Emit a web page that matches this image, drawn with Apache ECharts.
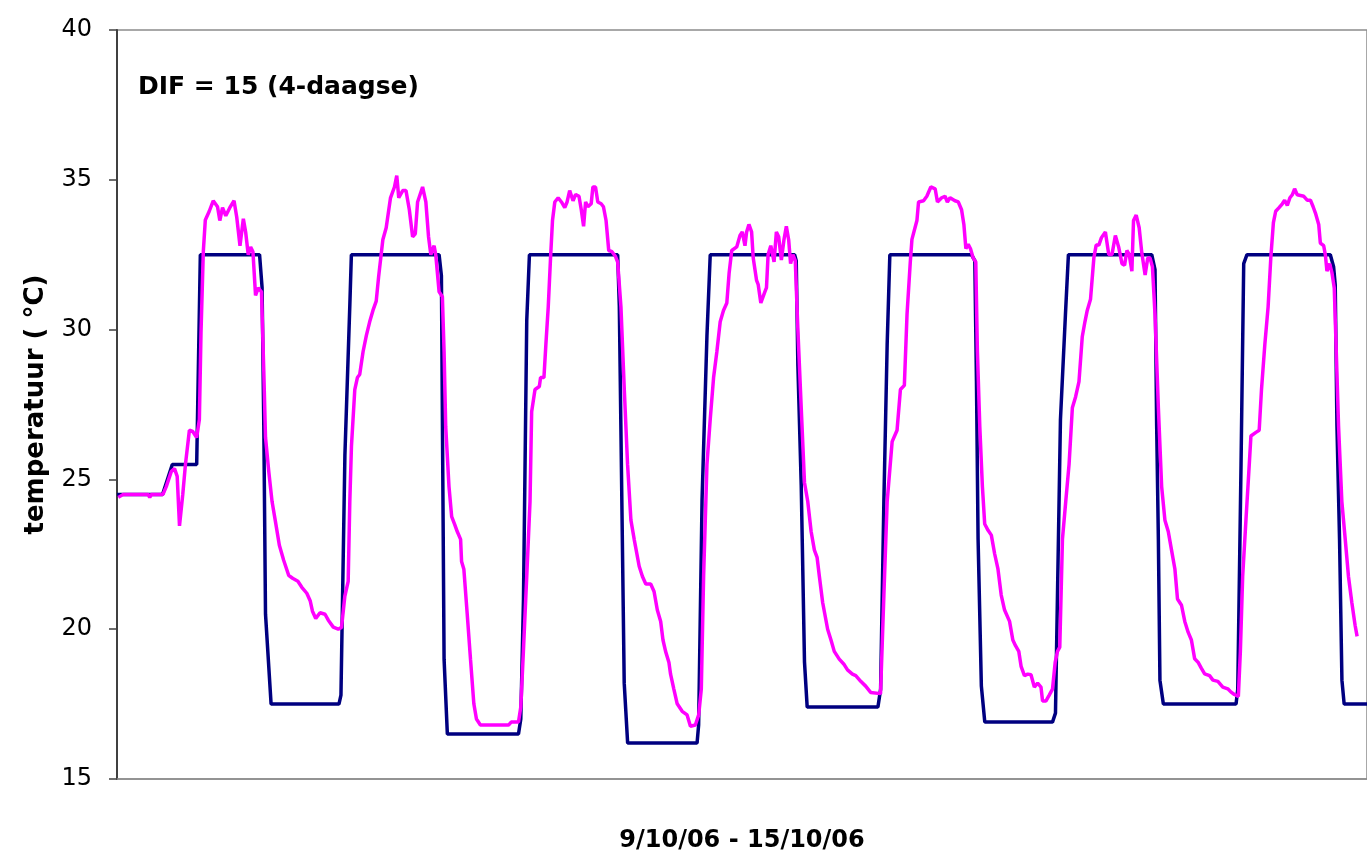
<!DOCTYPE html>
<html>
<head>
<meta charset="utf-8">
<script src="https://cdn.jsdelivr.net/npm/echarts@6/dist/echarts.min.js"></script>
<style>
html,body{margin:0;padding:0;background:#fff;}
#chart{width:1367px;height:858px;}
</style>
</head>
<body>
<div id="chart"></div>
<script>
// Time in hours since start of 9/10/06 (7 days = 168 h)
const titleText = 'DIF = 15 (4-daagse)';
const xAxisName = '9/10/06 - 15/10/06';
const yAxisName = 'temperatuur ( °C)';
const yTicks = [15, 20, 25, 30, 35, 40];

// Setpoint (dark blue)
const setHours = [0, 6.13, 7.43, 10.71, 11.2, 19.16, 19.5, 19.73, 19.96, 20.71,
  29.83, 30.1, 30.63, 31.29, 31.5, 43.29, 43.6, 43.96, 44.4,
  53.96, 54.27, 54.63, 55.07, 55.43, 67.29, 67.51, 68.17, 68.63,
  77.96, 78.17, 78.63, 79.29, 79.73, 91.07, 91.29, 91.51, 91.96, 92.4, 92.76,
  102.27, 102.63, 103.07, 103.51, 103.87, 114.84, 115.29, 115.51, 115.73, 116.17, 116.63,
  125.73, 126.13, 126.8, 127.47, 127.87, 139.07, 139.51, 139.73, 139.96, 140.17, 140.63,
  150.4, 150.63, 151.07, 151.43, 151.87, 163.07, 163.51, 163.73, 163.96, 164.31, 164.63, 164.93, 168];
const setTemps = [24.5, 24.5, 25.5, 25.5, 32.5, 32.5, 31.4, 26.8, 20.5, 17.5,
  17.5, 17.8, 25.8, 30.8, 32.5, 32.5, 31.8, 19.0, 16.5,
  16.5, 17.0, 21.0, 30.3, 32.5, 32.5, 30.8, 18.2, 16.2,
  16.2, 16.8, 24.3, 29.8, 32.5, 32.5, 32.3, 28.8, 24.8, 18.9, 17.4,
  17.4, 18.0, 24.3, 29.5, 32.5, 32.5, 32.3, 28.3, 23.0, 18.1, 16.9,
  16.9, 17.2, 27.0, 30.5, 32.5, 32.5, 32.0, 26.8, 23.0, 18.3, 17.5,
  17.5, 18.0, 25.5, 32.2, 32.5, 32.5, 32.1, 31.5, 26.8, 23.0, 18.3, 17.5, 17.5];

// Measured temperature (magenta)
const measHours = [0.18, 0.4, 0.84, 4.18, 4.4, 4.62, 6.18, 6.62, 7.29, 7.73, 8.09, 8.4, 8.84, 9.2, 9.73, 10.18, 10.71, 11.07, 11.29, 11.6,
  11.87, 12.4, 12.93, 13.51, 13.82, 14.18, 14.62, 15.16, 15.73, 16.09, 16.53, 16.98, 17.29, 17.64, 17.96, 18.27, 18.62, 18.98, 19.42, 19.73,
  19.96, 20.4, 20.84, 21.29, 21.82, 22.4, 23.07, 23.6, 24.31, 24.84, 25.51, 25.96, 26.27, 26.71, 27.29, 27.96, 28.4, 29.07, 29.73, 30.18,
  30.62, 31.07, 31.29, 31.51, 31.96, 32.31, 32.62, 33.07, 33.51, 33.96, 34.4, 34.84, 35.16, 35.73, 36.18, 36.76, 37.29, 37.6, 37.87, 38.4,
  38.84, 39.29, 39.73, 40.09, 40.4, 41.07, 41.51, 41.87, 42.18, 42.62, 42.84, 43.29, 43.73, 43.96, 44.18, 44.62, 44.98, 45.38, 45.73, 46.18,
  46.31, 46.62, 47.07, 47.51, 47.96, 48.31, 48.84, 52.62, 52.98, 53.96, 54.27, 54.62, 55.07, 55.51, 55.73, 56.18, 56.76, 56.93, 57.38, 57.64,
  57.96, 58.27, 58.53, 58.84, 59.29, 59.73, 60.18, 60.49, 60.84, 61.29, 61.64, 62.09, 62.4, 62.71, 62.98, 63.29, 63.73, 63.96, 64.31, 64.62,
  65.07, 65.38, 65.73, 66.09, 66.53, 66.98, 67.29, 67.73, 68.18, 68.62, 69.07, 69.51, 70.18, 70.62, 71.07, 71.73, 72.18, 72.62, 73.07, 73.38,
  73.73, 74.18, 74.4, 74.84, 75.29, 75.96, 76.62, 77.07, 77.73, 78.18, 78.53, 78.84, 79.29, 79.73, 80.18, 80.62, 81.07, 81.51, 81.96, 82.27,
  82.62, 83.29, 83.73, 84.04, 84.4, 84.62, 84.93, 85.29, 85.51, 85.96, 86.18, 86.53, 87.07, 87.29, 87.51, 87.87, 88.31, 88.62, 88.93, 89.29,
  89.64, 89.96, 90.27, 90.53, 90.84, 91.16, 91.51, 91.96, 92.4, 92.84, 93.29, 93.73, 94.09, 94.4, 94.84, 95.51, 95.96, 96.4, 97.07, 97.73,
  98.18, 98.84, 99.29, 99.96, 100.62, 101.29, 102.62, 103.07, 103.51, 104.18, 104.84, 105.29, 105.82, 106.18, 106.62, 106.84, 107.51, 107.73, 108.4, 108.84,
  109.38, 109.96, 110.27, 110.84, 111.29, 111.6, 111.96, 112.62, 113.07, 113.51, 113.82, 114.09, 114.4, 114.71, 115.07, 115.42, 115.64, 115.96, 116.31, 116.62,
  117.07, 117.51, 117.96, 118.4, 118.84, 119.29, 119.96, 120.4, 120.76, 121.2, 121.51, 121.96, 122.4, 122.84, 123.29, 123.73, 124.18, 124.4, 124.84, 125.29,
  125.73, 126.09, 126.4, 126.71, 127.07, 127.51, 127.96, 128.4, 128.84, 129.29, 129.73, 130.09, 130.4, 130.84, 131.29, 131.6, 131.96, 132.31, 132.84, 133.29,
  133.73, 134.18, 134.62, 135.07, 135.42, 135.73, 136.04, 136.4, 136.62, 136.98, 137.38, 137.73, 138.18, 138.53, 138.84, 139.16, 139.51, 139.96, 140.4, 140.84,
  141.29, 141.73, 142.18, 142.53, 143.07, 143.51, 143.96, 144.4, 144.84, 145.29, 145.73, 146.18, 146.84, 147.29, 147.96, 148.62, 149.29, 149.73, 150.18, 150.71,
  150.98, 151.29, 151.73, 152.18, 152.4, 153.07, 153.51, 153.82, 154.27, 154.71, 155.07, 155.42, 155.73, 156.18, 156.62, 156.93, 157.29, 157.64, 157.96, 158.27,
  158.62, 159.51, 159.96, 160.4, 160.76, 161.07, 161.51, 161.73, 162.18, 162.4, 162.62, 162.98, 163.29, 163.6, 163.87, 164.18, 164.62, 165.07, 165.51, 165.96,
  166.4, 166.67];
const measTemps = [24.4, 24.35, 24.5, 24.5, 24.4, 24.5, 24.5, 24.76, 25.26, 25.36, 25.1, 23.45, 24.5, 25.5, 26.64, 26.6, 26.4, 27.0, 29.9, 32.6,
  33.66, 33.95, 34.3, 34.1, 33.64, 34.07, 33.8, 34.07, 34.3, 33.76, 32.8, 33.7, 33.26, 32.5, 32.76, 32.6, 31.14, 31.39, 31.26, 28.6,
  26.4, 25.26, 24.26, 23.6, 22.8, 22.3, 21.8, 21.7, 21.6, 21.4, 21.2, 20.95, 20.6, 20.36, 20.55, 20.5, 20.3, 20.07, 20.0, 20.06,
  21.1, 21.6, 24.26, 26.1, 28.0, 28.4, 28.5, 29.26, 29.8, 30.26, 30.64, 30.95, 31.76, 33.0, 33.4, 34.4, 34.76, 35.14, 34.4, 34.64,
  34.64, 34.0, 33.1, 33.2, 34.26, 34.76, 34.26, 33.1, 32.5, 32.8, 32.5, 31.26, 31.1, 29.26, 26.76, 24.76, 23.76, 23.5, 23.26, 23.0,
  22.26, 22.0, 20.5, 19.0, 17.51, 17.0, 16.8, 16.8, 16.9, 16.9, 17.4, 19.26, 21.76, 24.26, 27.26, 28.0, 28.1, 28.4, 28.4, 29.5,
  30.76, 32.4, 33.64, 34.26, 34.4, 34.26, 34.07, 34.26, 34.64, 34.3, 34.51, 34.45, 34.0, 33.45, 34.26, 34.1, 34.2, 34.76, 34.76, 34.26,
  34.2, 34.1, 33.64, 32.64, 32.6, 32.45, 32.25, 30.76, 28.0, 25.5, 23.64, 23.0, 22.1, 21.76, 21.51, 21.51, 21.26, 20.64, 20.26, 19.64,
  19.26, 18.89, 18.5, 18.0, 17.51, 17.26, 17.14, 16.76, 16.8, 17.14, 18.0, 21.76, 25.5, 27.0, 28.4, 29.26, 30.26, 30.64, 30.89, 31.89,
  32.64, 32.76, 33.14, 33.26, 32.8, 33.26, 33.51, 33.26, 32.39, 31.64, 31.5, 30.89, 31.26, 31.4, 32.51, 32.8, 32.26, 33.26, 33.1, 32.32,
  33.0, 33.45, 33.0, 32.2, 32.5, 32.3, 30.0, 27.39, 24.89, 24.26, 23.26, 22.64, 22.4, 21.76, 20.89, 20.0, 19.64, 19.26, 19.0, 18.82,
  18.64, 18.5, 18.45, 18.26, 18.1, 17.89, 17.85, 21.14, 24.26, 26.26, 26.64, 28.0, 28.14, 30.51, 32.26, 33.01, 33.64, 34.26, 34.3, 34.45,
  34.76, 34.7, 34.26, 34.4, 34.45, 34.26, 34.4, 34.3, 34.26, 34.0, 33.51, 32.7, 32.85, 32.7, 32.39, 32.26, 29.26, 26.76, 24.76, 23.51,
  23.3, 23.14, 22.51, 22.01, 21.14, 20.64, 20.26, 19.64, 19.45, 19.26, 18.76, 18.45, 18.5, 18.48, 18.07, 18.2, 18.07, 17.6, 17.6, 17.8,
  18.0, 18.89, 19.26, 19.4, 23.01, 24.26, 25.51, 27.39, 27.76, 28.26, 29.76, 30.26, 30.64, 31.01, 32.39, 32.82, 32.82, 33.07, 33.26, 32.51,
  32.51, 33.14, 32.76, 32.2, 32.15, 32.64, 32.51, 31.95, 33.64, 33.82, 33.4, 32.57, 31.82, 32.39, 32.39, 32.1, 30.51, 27.4, 24.76, 23.64,
  23.26, 22.64, 22.01, 21.01, 20.8, 20.26, 19.9, 19.64, 19.01, 18.9, 18.7, 18.51, 18.45, 18.3, 18.26, 18.07, 18.01, 17.9, 17.82, 17.76,
  19.26, 21.76, 23.64, 25.51, 26.45, 26.57, 26.64, 28.0, 29.51, 30.76, 32.39, 33.57, 33.95, 34.07, 34.2, 34.32, 34.14, 34.4, 34.5, 34.7,
  34.5, 34.45, 34.32, 34.32, 34.1, 33.89, 33.51, 32.89, 32.8, 32.5, 31.95, 32.2, 31.9, 31.39, 29.26, 26.76, 24.26, 23.01, 21.76, 20.89,
  20.13, 19.76];

const zip = (xs, ys) => xs.map((x, i) => [x, ys[i]]);
const FONT = 'DejaVu Sans';

const chart = echarts.init(document.getElementById('chart'), null, {renderer: 'canvas'});
chart.setOption({
  animation: false,
  backgroundColor: '#ffffff',
  title: {
    text: titleText,
    left: 133, top: 70,
    textStyle: {fontFamily: FONT, fontWeight: 'bold', fontSize: 25, color: '#000'}
  },
  grid: {
    left: 117, top: 30, width: 1260, height: 752,
    show: true, borderColor: '#8c8c8c', borderWidth: 1.5, backgroundColor: 'transparent'
  },
  xAxis: {
    type: 'value', min: 0, max: 168,
    axisLine: {show: true, lineStyle: {color: '#8c8c8c', width: 1.5}},
    axisTick: {show: false},
    axisLabel: {show: false},
    splitLine: {show: false},
    name: xAxisName,
    nameLocation: 'middle',
    nameGap: 50,
    nameTextStyle: {fontFamily: FONT, fontWeight: 'bold', fontSize: 24, color: '#000'}
  },
  yAxis: {
    type: 'value', min: yTicks[0], max: yTicks[yTicks.length - 1], interval: 5,
    axisLine: {show: true, lineStyle: {color: '#404040', width: 2}},
    axisTick: {show: true, length: 8, lineStyle: {color: '#404040', width: 1.5}},
    axisLabel: {margin: 25, fontFamily: FONT, fontSize: 24, color: '#000'},
    splitLine: {show: false},
    name: yAxisName,
    nameLocation: 'middle',
    nameRotate: 90,
    nameGap: 68,
    nameTextStyle: {fontFamily: FONT, fontWeight: 'bold', fontSize: 26, color: '#000'}
  },
  series: [
    {
      name: 'setpoint', type: 'line', data: zip(setHours, setTemps),
      showSymbol: false, symbol: 'none',
      lineStyle: {color: '#000080', width: 3.5}, itemStyle: {color: '#000080'}
    },
    {
      name: 'temperatuur', type: 'line', data: zip(measHours, measTemps),
      showSymbol: false, symbol: 'none',
      lineStyle: {color: '#ff00ff', width: 3.5}, itemStyle: {color: '#ff00ff'}
    }
  ]
});
</script>
</body>
</html>
